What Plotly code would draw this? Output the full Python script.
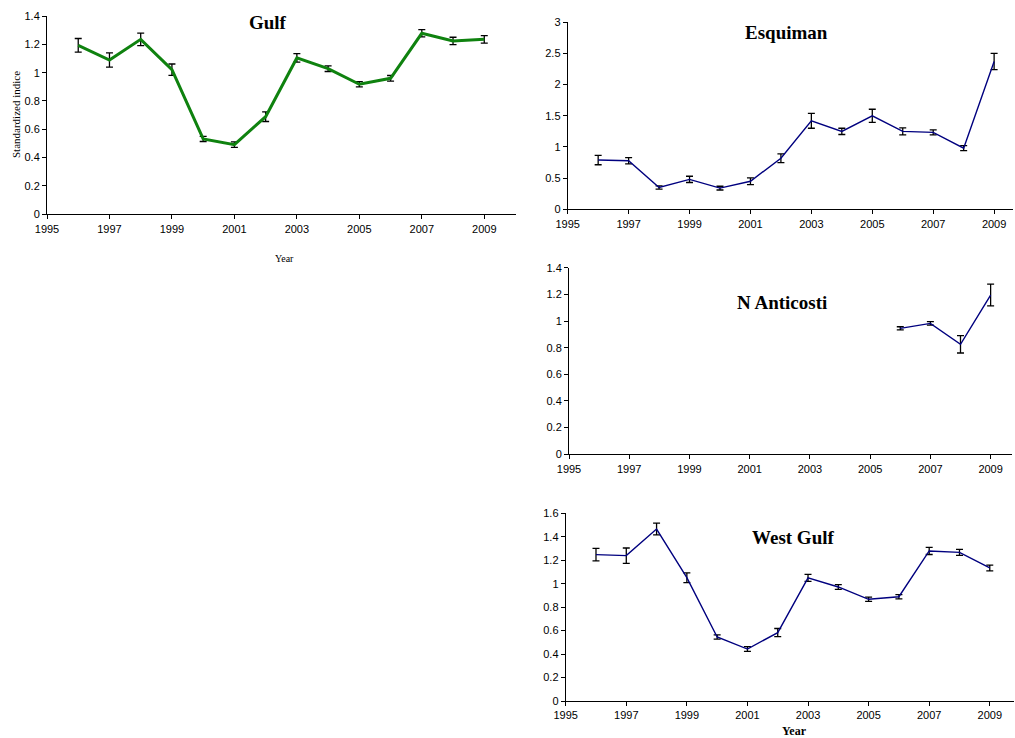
import plotly.graph_objects as go

# Survey years per series
years_full = [1996, 1997, 1998, 1999, 2000, 2001, 2002, 2003, 2004, 2005, 2006, 2007, 2008, 2009]
years_anticosti = [2006, 2007, 2008, 2009]

# Standardized indices and their error half-widths
gulf_vals = [1.193, 1.089, 1.235, 1.021, 0.532, 0.492, 0.689, 1.104, 1.028, 0.918, 0.960, 1.278, 1.224, 1.235]
gulf_err = [0.048, 0.050, 0.044, 0.040, 0.018, 0.020, 0.034, 0.030, 0.020, 0.019, 0.020, 0.026, 0.026, 0.026]

esquiman_vals = [0.79, 0.78, 0.35, 0.48, 0.34, 0.45, 0.82, 1.42, 1.25, 1.50, 1.25, 1.235, 0.98, 2.37]
esquiman_err = [0.075, 0.050, 0.025, 0.050, 0.030, 0.055, 0.070, 0.120, 0.050, 0.105, 0.055, 0.040, 0.040, 0.130]

anticosti_vals = [0.945, 0.982, 0.825, 1.195]
anticosti_err = [0.012, 0.013, 0.065, 0.082]

westgulf_vals = [1.248, 1.239, 1.466, 1.051, 0.546, 0.443, 0.583, 1.049, 0.972, 0.867, 0.889, 1.279, 1.267, 1.134]
westgulf_err = [0.053, 0.065, 0.050, 0.042, 0.018, 0.020, 0.035, 0.030, 0.020, 0.018, 0.018, 0.030, 0.025, 0.025]

W, H = 1015, 738
GREEN = "#0f820f"
NAVY = "#00007f"
SANS = "Liberation Sans, Arial, sans-serif"
SERIF = "Liberation Serif, Times New Roman, serif"


def px_x(p):
    return p / W


def px_y(p):
    return 1 - p / H


fig = go.Figure()

panels = [
    # (x, y, errors, colour, line width, xaxis id, yaxis id)
    (years_full, gulf_vals, gulf_err, GREEN, 3, "x", "y"),
    (years_full, esquiman_vals, esquiman_err, NAVY, 1.4, "x2", "y2"),
    (years_anticosti, anticosti_vals, anticosti_err, NAVY, 1.4, "x3", "y3"),
    (years_full, westgulf_vals, westgulf_err, NAVY, 1.4, "x4", "y4"),
]

for xs, ys, es, col, lw, xa, ya in panels:
    fig.add_trace(go.Scatter(
        x=xs, y=ys, mode="lines",
        line=dict(color=col, width=lw),
        error_y=dict(type="data", array=es, visible=True, color="black",
                     thickness=1.3, width=3.5),
        xaxis=xa, yaxis=ya, showlegend=False, hoverinfo="x+y",
    ))

axis_common = dict(
    showline=True, linecolor="black", linewidth=1,
    ticks="outside", ticklen=4, tickcolor="black", tickwidth=1,
    showgrid=False, zeroline=False, automargin=False,
    tickfont=dict(family=SANS, size=11, color="black"),
)

# Panel geometry in pixels: (left, right, top, bottom, xmax, ymax, ydtick)
geo = {
    "": (47, 515.5, 16, 214.3, 2010.0, 1.4, 0.2),
    "2": (567.7, 1013, 22.3, 209.3, 2009.62, 3.0, 0.5),
    "3": (569, 1011.7, 267.7, 454.3, 2009.7, 1.4, 0.2),
    "4": (565.7, 1014, 513.3, 701, 2009.8, 1.6, 0.2),
}

layout = {}
for k, (l, r, t, b, xmax, ymax, ydt) in geo.items():
    layout["xaxis" + k] = dict(
        axis_common, domain=[px_x(l), px_x(r)], range=[1995, xmax],
        tick0=1995, dtick=2, anchor="y" + k,
    )
    layout["yaxis" + k] = dict(
        axis_common, domain=[px_y(b), px_y(t)], range=[0, ymax],
        tick0=0, dtick=ydt, anchor="x" + k,
    )

fig.update_layout(
    width=W, height=H, autosize=False,
    margin=dict(l=0, r=0, t=0, b=0),
    paper_bgcolor="white", plot_bgcolor="white",
    **layout,
)

titles = [
    ("Gulf", 268, 22),
    ("Esquiman", 786, 33),
    ("N Anticosti", 782, 302),
    ("West Gulf", 793, 537),
]
for txt, cx, cy in titles:
    fig.add_annotation(
        text="<b>%s</b>" % txt, x=px_x(cx), y=px_y(cy), xref="paper", yref="paper",
        showarrow=False, xanchor="center", yanchor="middle",
        font=dict(family=SERIF, size=19, color="black"),
    )

fig.add_annotation(
    text="Standardized indice", x=px_x(16), y=px_y(115), xref="paper", yref="paper",
    showarrow=False, textangle=-90, xanchor="center", yanchor="middle",
    font=dict(family=SERIF, size=11, color="black"),
)
fig.add_annotation(
    text="Year", x=px_x(284), y=px_y(258), xref="paper", yref="paper",
    showarrow=False, xanchor="center", yanchor="middle",
    font=dict(family=SERIF, size=10, color="black"),
)
fig.add_annotation(
    text="<b>Year</b>", x=px_x(794), y=px_y(731), xref="paper", yref="paper",
    showarrow=False, xanchor="center", yanchor="middle",
    font=dict(family=SERIF, size=12, color="black"),
)

# Place the fixed-size figure flush with the page corner
fig.write_html("out.html", post_script="document.body.style.margin='0';")
